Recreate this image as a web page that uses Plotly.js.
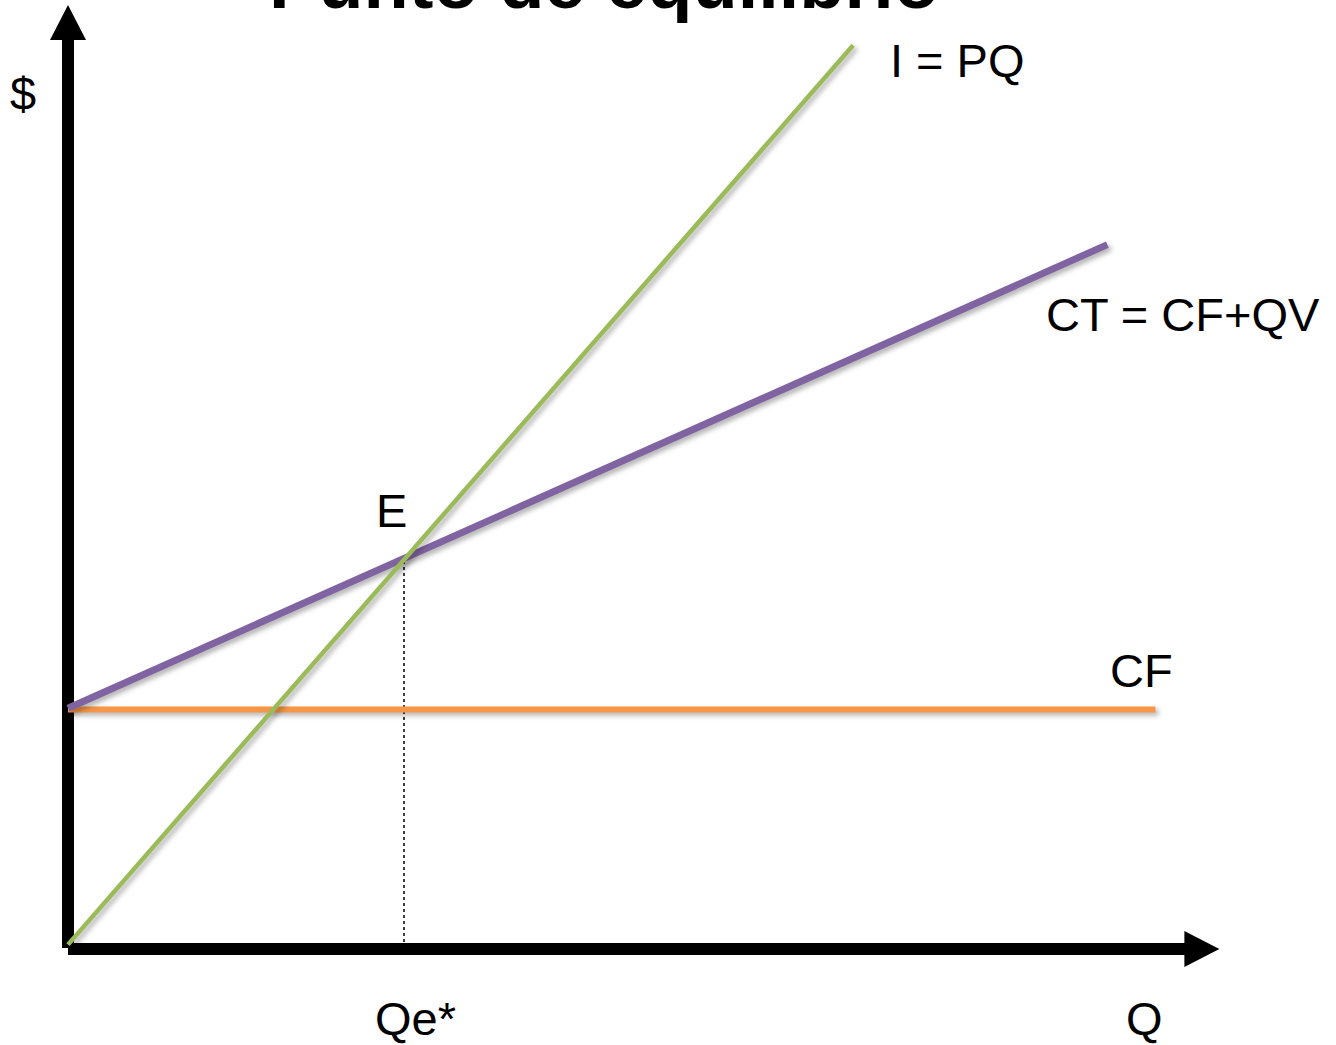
<!DOCTYPE html>
<html>
<head>
<meta charset="utf-8">
<script src="https://cdn.plot.ly/plotly-3.0.1.min.js"></script>
<style>
  html, body { margin: 0; padding: 0; background: #ffffff; }
  #chart { width: 1336px; height: 1045px; }
  .scatterlayer .trace:nth-child(n+2) path.js-line {
    filter: drop-shadow(3px 3px 2.5px rgba(0,0,0,0.30));
  }
</style>
</head>
<body>
<div id="chart"></div>
<script>
// ---- Data (chart units) ----
var titleText = "Punto de equilibrio";

// Ingreso: I = PQ
var ingresoQ = [0, 7.01];
var ingresoV = [0.03, 8.06];

// Costo total: CT = CF + QV
var ctQ = [0, 9.28];
var ctV = [2.14, 6.28];

// Costo fijo: CF
var cfQ = [0, 9.71];
var cfV = [2.13, 2.13];

// Punto de equilibrio E
var eqQ = [3.0, 3.0];
var eqV = [0, 3.46];

// Axis extents (arrow tips) in chart units
var xAxisEnd = 10.28;
var yAxisEnd = 8.42;

// Labels
var labelIngreso = "I = PQ";
var labelCT = "CT = CF+QV";
var labelCF = "CF";
var labelE = "E";
var labelY = "$";
var labelQe = "Qe*";
var labelQ = "Q";

// ---- Colours ----
var colGreen = "#9BBB59";
var colPurple = "#8064A2";
var colOrange = "#F79646";

// ---- Layout mapping: 112 px per unit, origin at pixel (68, 948) ----
var W = 1336, H = 1045, ox = 68, oy = 948, s = 112;
var xr = [-ox / s, (W - ox) / s];
var yr = [-(H - oy) / s, oy / s];
function px2x(p) { return (p - ox) / s; }
function py2y(p) { return (oy - p) / s; }

var font = { family: "Liberation Sans, Arial, Helvetica, sans-serif", size: 47, color: "#000000" };

var traces = [
  { x: eqQ, y: eqV, mode: "lines", line: { color: "#000000", width: 1.5, dash: "dot" }, hoverinfo: "skip" },
  { x: cfQ, y: cfV, mode: "lines", line: { color: colOrange, width: 6 }, hoverinfo: "skip" },
  { x: ctQ, y: ctV, mode: "lines", line: { color: colPurple, width: 7 }, hoverinfo: "skip" },
  { x: ingresoQ, y: ingresoV, mode: "lines", line: { color: colGreen, width: 4.5 }, hoverinfo: "skip" }
];

var head = 18 / s, headLen = 35 / s;
var shapes = [
  // y axis
  { type: "line", xref: "x", yref: "y", x0: 0, x1: 0, y0: 0, y1: yAxisEnd - headLen + 0.02,
    line: { color: "#000", width: 12 }, layer: "below" },
  { type: "path", xref: "x", yref: "y",
    path: "M " + (-head) + "," + (yAxisEnd - headLen) + " L " + head + "," + (yAxisEnd - headLen) + " L 0," + yAxisEnd + " Z",
    fillcolor: "#000", line: { width: 0 }, layer: "below" },
  // x axis
  { type: "line", xref: "x", yref: "y", x0: 0, x1: xAxisEnd - headLen + 0.02, y0: -0.009, y1: -0.009,
    line: { color: "#000", width: 12 }, layer: "below" },
  { type: "path", xref: "x", yref: "y",
    path: "M " + (xAxisEnd - headLen) + "," + (-0.009 - head) + " L " + (xAxisEnd - headLen) + "," + (-0.009 + head) + " L " + xAxisEnd + "," + (-0.009) + " Z",
    fillcolor: "#000", line: { width: 0 }, layer: "below" }
];

function lab(text, pxL, pyC) {
  return { text: text, x: px2x(pxL), y: py2y(pyC), xref: "x", yref: "y",
           xanchor: "left", yanchor: "middle", showarrow: false, font: font };
}

var annotations = [
  lab(labelIngreso, 888, 60),
  lab(labelCT, 1044, 314),
  lab(labelCF, 1108, 670),
  lab(labelE, 374, 510),
  lab(labelY, 8, 93),
  lab(labelQe, 373, 1018),
  lab(labelQ, 1124, 1018),
  { text: "<b>" + titleText + "</b>", x: 604 / W, y: 1 + 17.5 / H, xref: "paper", yref: "paper",
    xanchor: "center", yanchor: "middle", showarrow: false,
    font: { family: "Liberation Sans, Arial, Helvetica, sans-serif", size: 74, color: "#000" } }
];

var layout = {
  width: W, height: H,
  margin: { l: 0, r: 0, t: 0, b: 0, pad: 0 },
  paper_bgcolor: "#ffffff", plot_bgcolor: "#ffffff",
  showlegend: false,
  xaxis: { range: xr, visible: false, fixedrange: true },
  yaxis: { range: yr, visible: false, fixedrange: true },
  shapes: shapes,
  annotations: annotations
};

Plotly.newPlot("chart", traces, layout, { displayModeBar: false, staticPlot: true });
</script>
</body>
</html>
